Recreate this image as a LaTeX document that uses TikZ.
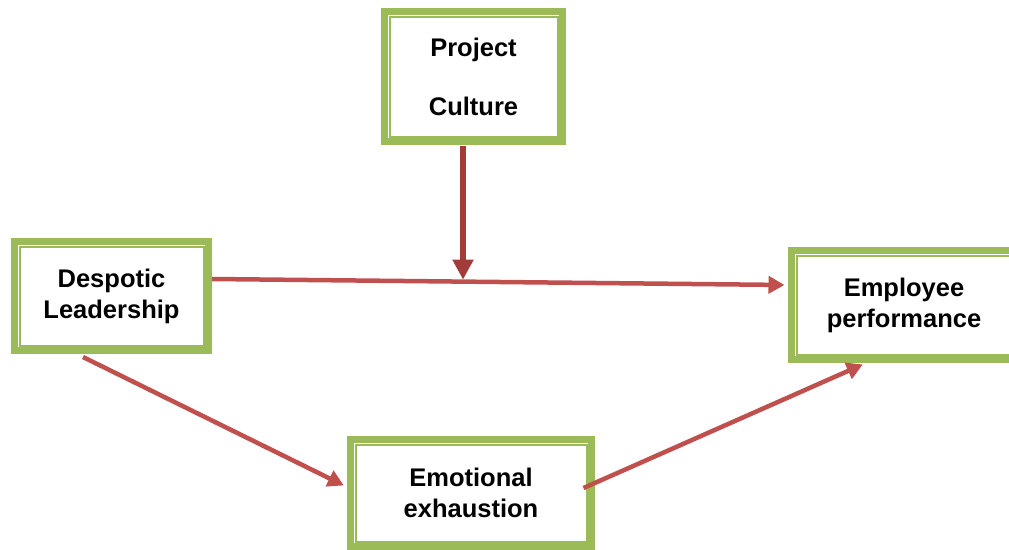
\documentclass[tikz,border=0pt]{standalone}
\usepackage{fontspec}
\setmainfont{Liberation Sans}
\usetikzlibrary{arrows.meta, positioning, calc}

\definecolor{framegreen}{HTML}{9BBB59}
\definecolor{arrowred}{HTML}{C0504D}
\definecolor{arrowdark}{HTML}{A33B3B}

\begin{document}
\begin{tikzpicture}[x=1pt, y=-1pt, >=Triangle,
  box/.style={draw=framegreen, line width=7pt, fill=white, align=center,
              inner sep=0pt, font=\bfseries\fontsize{25.5}{31}\selectfont},
  inframe/.style={draw=framegreen, line width=2pt},
  link/.style={->, draw=arrowred, line width=4.5pt,
               arrows={-Triangle[length=16pt, width=17pt]}}]

  \useasboundingbox (0,0) rectangle (1009,549);

  % Fila 1: cultura del proyecto
  \node[box, minimum width=178pt, minimum height=130pt] (culture) at (473.5,76.5)
        {Project\\[28pt]Culture};

  % Fila 2: liderazgo (izq) y desempeno (der)
  \node[box, minimum width=194pt, minimum height=109pt] (leader) at (111.5,296)
        {Despotic\\Leadership};
  \node[box, minimum width=225pt, minimum height=109pt] (perform) at (904,305)
        {Employee\\performance};

  % Fila 3: agotamiento
  \node[box, minimum width=241pt, minimum height=107pt] (exhaust) at (471,493)
        {Emotional\\exhaustion};

  % Marco interior
  \foreach \n in {culture, leader, perform, exhaust}
    \draw[inframe] ([shift={(8.5pt,-8.5pt)}]\n.north west)
                   rectangle ([shift={(-8.5pt,8.5pt)}]\n.south east);

  % Flechas
  \coordinate (lineA) at ([yshift=17pt]leader.east);
  \coordinate (lineB) at ([yshift=20pt]perform.west);
  \coordinate (meet) at ($(lineA)!0.436!(lineB)$);
  \coordinate (cultfoot) at ([xshift=-10.5pt, yshift=-1pt]culture.south);
  \draw[link, shorten >=3.5pt] (lineA) -- (lineB);
  \draw[link, draw=arrowdark, line width=5.5pt, shorten >=2pt,
        arrows={-Triangle[length=20pt, width=20pt]}]
        (cultfoot) -- (cultfoot |- meet);
  \draw[link, shorten >=3.5pt] ([xshift=-28.5pt, yshift=-3pt]leader.south)
        -- ([yshift=6pt]exhaust.west);
  \draw[link, shorten >=3.5pt] ([xshift=-11.5pt, yshift=5pt]exhaust.east)
        -- ([xshift=-38pt]perform.south);
\end{tikzpicture}
\end{document}
